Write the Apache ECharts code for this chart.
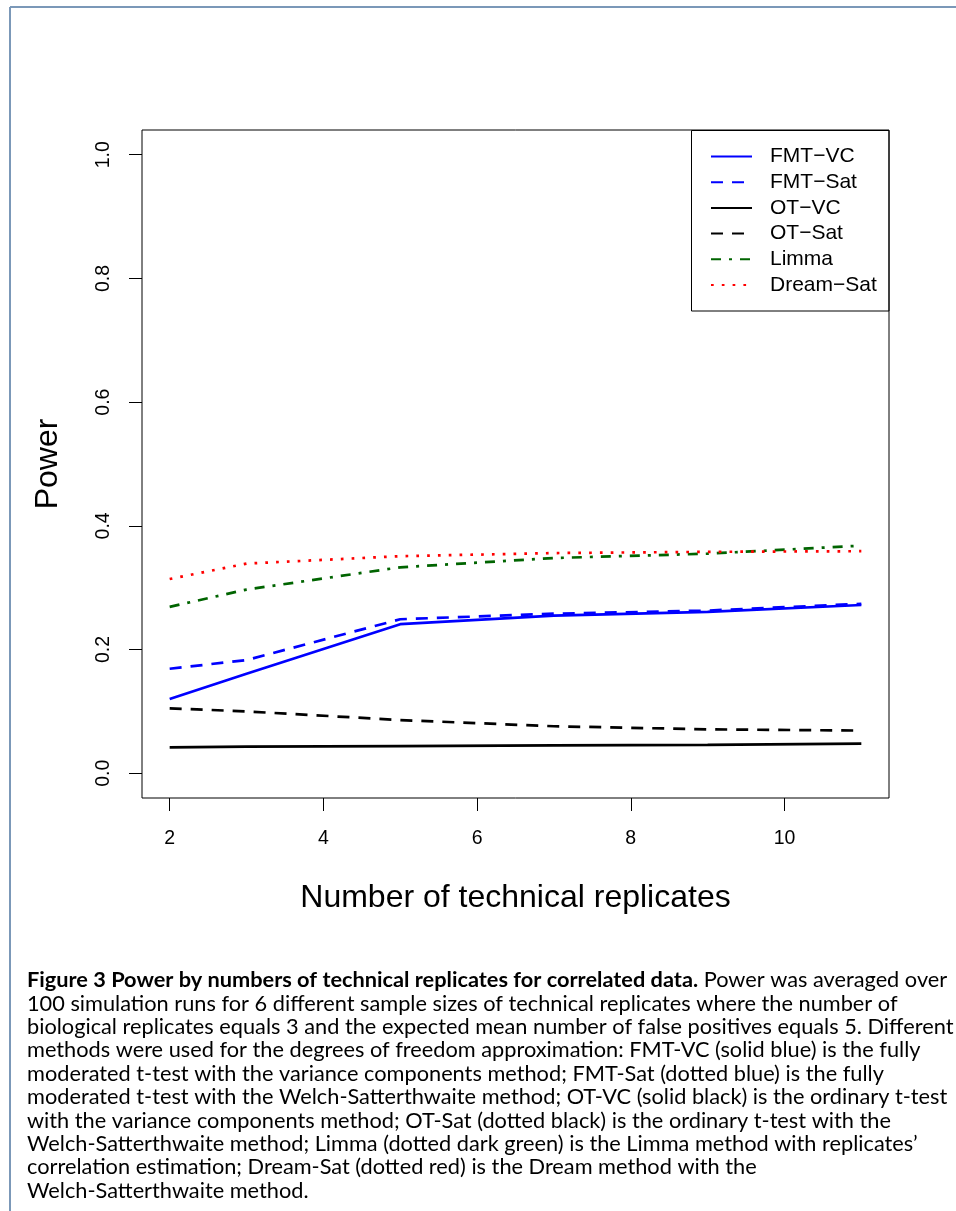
<!DOCTYPE html>
<html>
<head>
<meta charset="utf-8">
<script src="https://cdn.jsdelivr.net/npm/echarts@6/dist/echarts.min.js"></script>
<style>
  html, body { margin: 0; padding: 0; background: #fff; }
  #main { width: 956px; height: 1211px; }
</style>
</head>
<body>
<div id="main"></div>
<script>
// number of technical replicates
var replicates = [2, 3, 5, 7, 9, 11];

// power per method
var fmtVC   = [0.120, 0.161, 0.241, 0.255, 0.261, 0.272];
var fmtSat  = [0.169, 0.183, 0.249, 0.258, 0.263, 0.274];
var otVC    = [0.042, 0.043, 0.044, 0.045, 0.046, 0.048];
var otSat   = [0.105, 0.100, 0.086, 0.076, 0.071, 0.069];
var limma   = [0.269, 0.297, 0.333, 0.348, 0.355, 0.368];
var dreamSat = [0.314, 0.339, 0.351, 0.356, 0.358, 0.359];

var methodNames = ['FMT\u2212VC', 'FMT\u2212Sat', 'OT\u2212VC', 'OT\u2212Sat', 'Limma', 'Dream\u2212Sat'];
var xTicks = [2, 4, 6, 8, 10];
var yTicks = [0, 0.2, 0.4, 0.6, 0.8, 1.0];

var captionBold = 'Figure 3 Power by numbers of technical replicates for correlated data.';
var captionLines = [
    ' Power was averaged over',
    '100 simulation runs for 6 different sample sizes of technical replicates where the number of',
    'biological replicates equals 3 and the expected mean number of false positives equals 5. Different',
    'methods were used for the degrees of freedom approximation: FMT-VC (solid blue) is the fully',
    'moderated t-test with the variance components method; FMT-Sat (dotted blue) is the fully',
    'moderated t-test with the Welch-Satterthwaite method; OT-VC (solid black) is the ordinary t-test',
    'with the variance components method; OT-Sat (dotted black) is the ordinary t-test with the',
    'Welch-Satterthwaite method; Limma (dotted dark green) is the Limma method with replicates\u2019',
    'correlation estimation; Dream-Sat (dotted red) is the Dream method with the',
    'Welch-Satterthwaite method.'
];

var FONT = '"Liberation Sans", Arial, sans-serif';
var CAPFONT = 'Lato, "Open Sans", sans-serif';

// fit caption size so the first line spans the text column
var ctx = document.createElement('canvas').getContext('2d');
ctx.font = 'bold 100px ' + CAPFONT;
var wb = ctx.measureText(captionBold).width;
ctx.font = '100px ' + CAPFONT;
var wn = ctx.measureText(captionLines[0]).width;
var capSize = 100 * 921 / (wb + wn);

function pairs(vals) {
    return replicates.map(function (x, i) { return [x, vals[i]]; });
}

function lineSeries(name, vals, color, dash) {
    return {
        name: name,
        type: 'line',
        data: pairs(vals),
        symbol: 'none',
        smooth: false,
        animation: false,
        lineStyle: { color: color, width: 2.7, type: dash, cap: 'butt' },
        itemStyle: { color: color }
    };
}

var chart = echarts.init(document.getElementById('main'), null, { renderer: 'canvas' });

var graphics = [
    // page frame
    { type: 'line', shape: { x1: 10, y1: 7, x2: 956, y2: 7 }, style: { stroke: '#7b98b8', lineWidth: 2 }, silent: true },
    { type: 'line', shape: { x1: 10, y1: 7, x2: 10, y2: 1211 }, style: { stroke: '#7b98b8', lineWidth: 2 }, silent: true },
    // legend frame
    { type: 'rect', shape: { x: 691.5, y: 130.5, width: 197.5, height: 180.5 }, style: { fill: 'none', stroke: '#000', lineWidth: 1 }, silent: true }
];

var base = 988;
var pitch = 23.4;
captionLines.forEach(function (t, i) {
    var st = {
        x: 27,
        y: base + i * pitch - 0.36 * capSize,
        fill: '#000',
        fontFamily: CAPFONT,
        fontSize: capSize,
        lineHeight: 20,
        verticalAlign: 'middle',
        align: 'left'
    };
    if (i === 0) {
        st.text = '{b|' + captionBold + '}{n|' + t + '}';
        st.rich = {
            b: { fontWeight: 'bold', fontFamily: CAPFONT, fontSize: capSize, lineHeight: 20 },
            n: { fontFamily: CAPFONT, fontSize: capSize, lineHeight: 20 }
        };
    } else {
        st.text = t;
    }
    graphics.push({ type: 'text', style: st, silent: true });
});

var option = {
    backgroundColor: '#fff',
    animation: false,
    grid: {
        left: 142, top: 130, width: 747, height: 668,
        show: true, borderColor: '#000', borderWidth: 1, backgroundColor: 'transparent'
    },
    legend: {
        orient: 'vertical',
        left: 710,
        top: 146,
        padding: 0,
        itemWidth: 41,
        itemHeight: 21,
        itemGap: 4.7,
        data: methodNames,
        itemStyle: { opacity: 0, color: 'transparent', borderWidth: 0 },
        textStyle: { fontFamily: FONT, fontSize: 21, color: '#000', lineHeight: 21, padding: [0, 0, 0, 13] }
    },
    xAxis: {
        type: 'value',
        min: 1.64, max: 11.36,
        name: 'Number of technical replicates',
        nameLocation: 'middle',
        nameGap: 84,
        nameTextStyle: { fontFamily: FONT, fontSize: 32, color: '#000' },
        axisLine: { show: false, onZero: false },
        splitLine: { show: false },
        axisTick: { show: true, customValues: xTicks, length: 13, lineStyle: { color: '#000', width: 1 } },
        axisLabel: { customValues: xTicks, fontFamily: FONT, fontSize: 19.5, color: '#000', margin: 31 }
    },
    yAxis: {
        type: 'value',
        min: -0.04, max: 1.04,
        name: 'Power',
        nameLocation: 'middle',
        nameGap: 78,
        nameTextStyle: { fontFamily: FONT, fontSize: 32, color: '#000' },
        axisLine: { show: false, onZero: false },
        splitLine: { show: false },
        axisTick: { show: true, customValues: yTicks, length: 13, lineStyle: { color: '#000', width: 1 } },
        axisLabel: {
            customValues: yTicks, rotate: 90, fontFamily: FONT, fontSize: 19.5, color: '#000', margin: 28,
            formatter: function (v) { return v.toFixed(1); }
        }
    },
    series: [
        lineSeries(methodNames[0], fmtVC, '#0000ff', 'solid'),
        lineSeries(methodNames[1], fmtSat, '#0000ff', [12, 9]),
        lineSeries(methodNames[2], otVC, '#000000', 'solid'),
        lineSeries(methodNames[3], otSat, '#000000', [12, 9]),
        lineSeries(methodNames[4], limma, '#006400', [10, 8, 3, 8]),
        lineSeries(methodNames[5], dreamSat, '#ff0000', [2.7, 8.1])
    ],
    graphic: graphics
};

chart.setOption(option);
</script>
</body>
</html>
